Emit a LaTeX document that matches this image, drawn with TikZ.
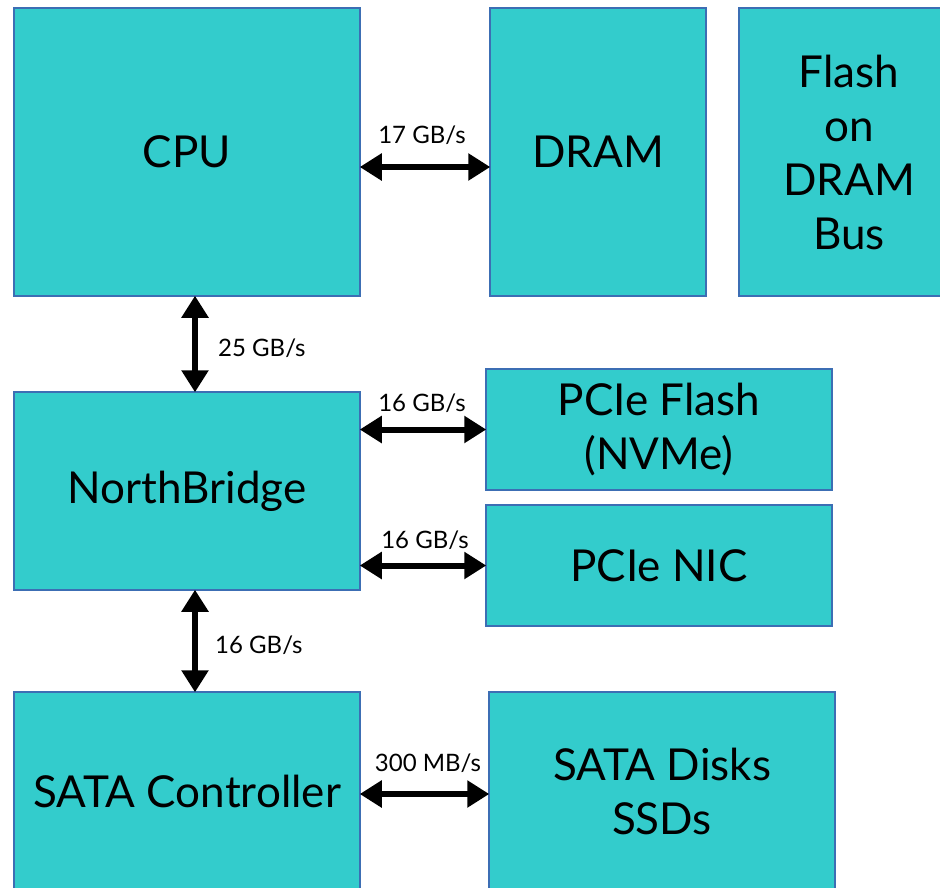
\documentclass[tikz,border=0pt]{standalone}
\usepackage{fontspec}
\setmainfont{Lato}
\usetikzlibrary{arrows.meta}
\definecolor{boxfill}{HTML}{33CCCC}
\definecolor{boxline}{HTML}{3C6EB4}
\begin{document}
\begin{tikzpicture}[x=1pt,y=-1pt,
  box/.style={draw=boxline, fill=boxfill, line width=1.5pt, rectangle,
    inner sep=0pt, align=center, font=\fontsize{44}{54}\selectfont},
  link/.style={line width=6pt, {Triangle[length=22pt,width=26pt]}-{Triangle[length=22pt,width=26pt]}, shorten <=-1pt, shorten >=-1pt},
  rate/.style={font=\fontsize{24}{28}\selectfont, inner sep=0pt}]
\useasboundingbox (0,0) rectangle (940,887);
\clip (0,0) rectangle (940,887);
\fill[white] (0,0) rectangle (940,887);

% top row
\node[box, minimum width=346pt, minimum height=288pt] (cpu) at (187,152) {CPU};
\node[box, minimum width=216pt, minimum height=288pt] (dram) at (598,152) {DRAM};
\node[box, minimum width=220pt, minimum height=288pt] (flashbus) at (849,152) {Flash\\on\\DRAM\\Bus};

% middle row
\node[box, minimum width=346pt, minimum height=198pt] (nb) at (187,491) {NorthBridge};
\node[box, minimum width=346pt, minimum height=121pt] (pcieflash) at (659,429.5) {PCIe Flash\\(NVMe)};
\node[box, minimum width=346pt, minimum height=121pt] (nic) at (659,565.5) {PCIe NIC};

% bottom row (runs past the lower edge)
\node[box, minimum width=346pt, minimum height=198pt] (sata) at (187,791) {SATA Controller};
\node[box, minimum width=346pt, minimum height=198pt] (disks) at (662,791) {SATA Disks\\SSDs};

% links
\draw[link] ([yshift=-15pt]cpu.east) -- ([yshift=-15pt]dram.west);
\node[rate] (r1) at (422,135) {17 GB/s};

\draw[link] ([xshift=8pt]cpu.south) -- ([xshift=8pt]nb.north);
\node[rate, anchor=west] (r2) at (218,348) {25 GB/s};

\draw[link] (pcieflash.west -| nb.east) -- (pcieflash.west);
\node[rate] (r3) at (422,403) {16 GB/s};

\draw[link] (nic.west -| nb.east) -- (nic.west);
\node[rate] (r4) at (425,540) {16 GB/s};

\draw[link] ([yshift=-3pt]sata.east) -- ([yshift=-3pt]disks.west);
\node[rate] (r6) at (428,763) {300 MB/s};

\draw[link] ([xshift=8pt]nb.south) -- ([xshift=8pt]sata.north);
\node[rate, anchor=west] (r5) at (215,645) {16 GB/s};
\end{tikzpicture}
\end{document}
